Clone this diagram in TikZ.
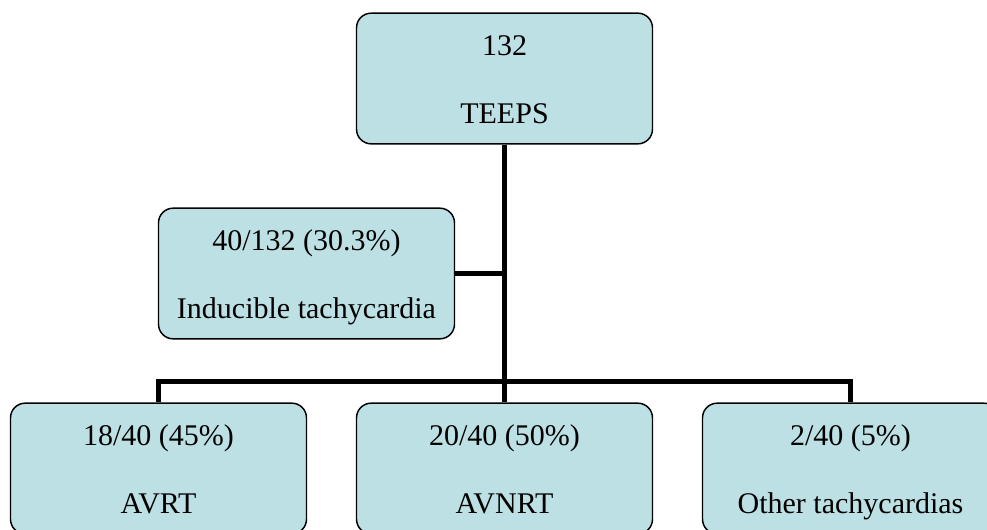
\documentclass[tikz,border=0pt]{standalone}
\usepackage{fontspec}
\setmainfont{Liberation Serif}
\usetikzlibrary{positioning}
\definecolor{boxfill}{RGB}{189,224,228}
% count line on top, label line below
\newcommand{\boxtext}[2]{\rule{0pt}{24pt}#1\\[25pt]#2\strut}

\begin{document}
\begin{tikzpicture}[
  x=0.75pt, y=0.75pt,
  level 1/.style={sibling distance=259.5pt, level distance=292.5pt},
  every node/.style={draw, rounded corners=11pt, fill=boxfill, line width=1.1pt,
    minimum width=222pt, minimum height=98pt, align=center,
    font=\fontsize{22.5}{26}\selectfont},
  edge from parent/.style={draw, line width=3.5pt},
  edge from parent path={(\tikzparentnode.south) |- ([yshift=15.75pt]\tikzchildnode.north)
    -- (\tikzchildnode.north)}
]
  \clip (0,0) rectangle (987,-529);
  \node (teeps) at (504.5,-78.5) {\boxtext{132}{TEEPS}}
    child {node (avrt) {\boxtext{18/40 (45\%)}{AVRT}}}
    child {node (avnrt) {\boxtext{20/40 (50\%)}{AVNRT}}}
    child {node (other) {\boxtext{2/40 (5\%)}{Other tachycardias}}};
  % side box hooked onto the trunk
  \node (induced) at (306.5,-273.5) {\boxtext{40/132 (30.3\%)}{Inducible tachycardia}};
  \draw[line width=3.5pt] (induced.east) -- (induced.east -| teeps.south);
\end{tikzpicture}
\end{document}
